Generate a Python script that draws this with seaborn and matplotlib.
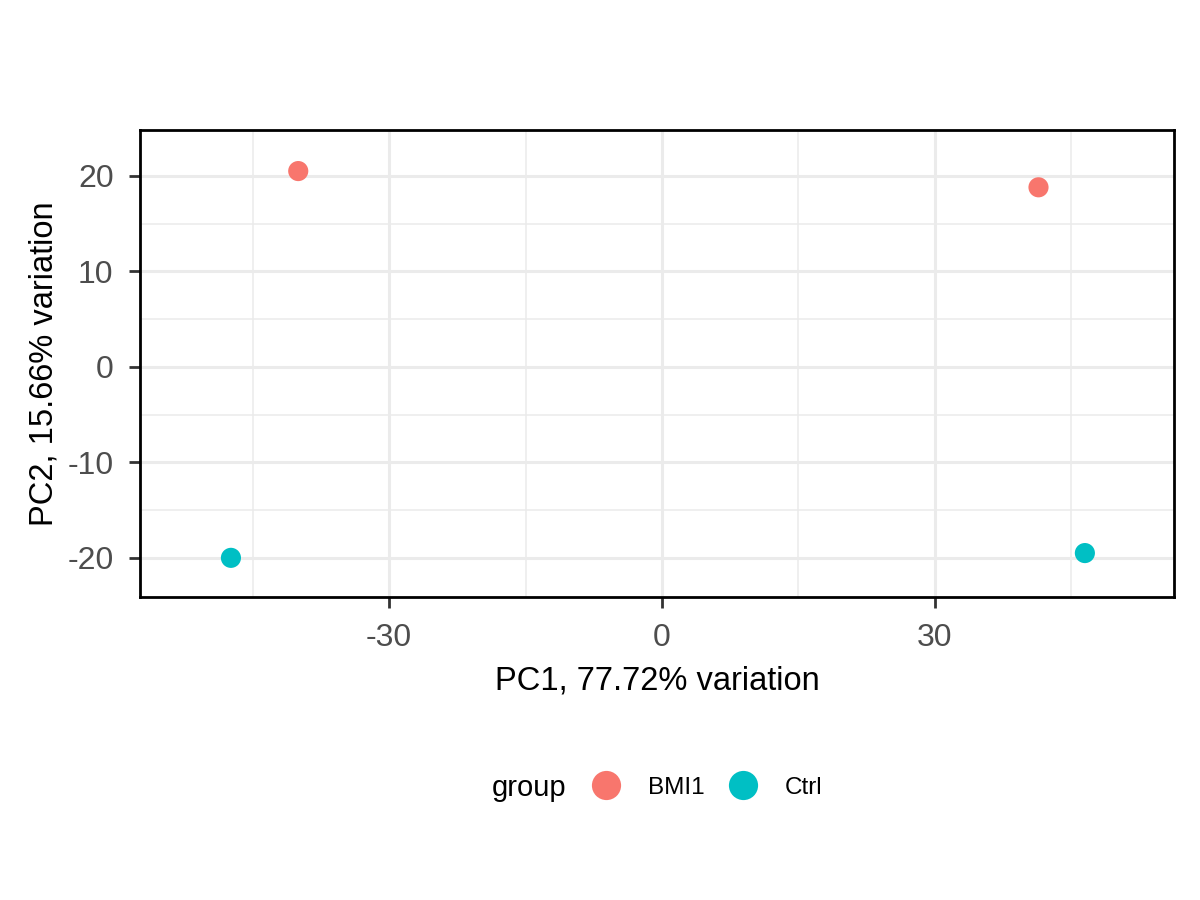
import numpy as np
import pandas as pd
import matplotlib
matplotlib.use("Agg")
import matplotlib.pyplot as plt
import seaborn as sns
from matplotlib.ticker import MultipleLocator

# PCA scores
samples = ["BMI1_1", "BMI1_2", "Ctrl_1", "Ctrl_2"]
group = ["BMI1", "BMI1", "Ctrl", "Ctrl"]
pc1 = [-40.0, 41.4, -47.4, 46.5]
pc2 = [20.5, 18.8, -20.0, -19.5]
groups = ["BMI1", "Ctrl"]
colours = ["#F8766D", "#00BFC4"]

df = pd.DataFrame({"sample": samples, "group": group, "PC1": pc1, "PC2": pc2})

sns.set_theme(style="white")
plt.rcParams["font.family"] = ["Liberation Sans", "DejaVu Sans"]
plt.rcParams["axes.unicode_minus"] = False

fig = plt.figure(figsize=(12, 9), dpi=100)
ax = fig.add_axes([140/1200, 303/900, 1034/1200, 467/900])

sns.scatterplot(data=df, x="PC1", y="PC2", hue="group", hue_order=groups,
                palette=colours, s=210, linewidth=0, ax=ax, zorder=3)

ax.set_xlim(-57.4, 56.3)
ax.set_ylim(-24.1, 24.8)
ax.xaxis.set_major_locator(MultipleLocator(30))
ax.xaxis.set_minor_locator(MultipleLocator(15))
ax.yaxis.set_major_locator(MultipleLocator(10))
ax.yaxis.set_minor_locator(MultipleLocator(5))
ax.grid(which="major", color="#EBEBEB", linewidth=2.2, zorder=0)
ax.grid(which="minor", color="#EBEBEB", linewidth=1.1, zorder=0)
ax.set_axisbelow(True)
for sp in ax.spines.values():
    sp.set_color("black")
    sp.set_linewidth(2)
ax.tick_params(which="major", length=8, width=2, color="#333333",
               labelsize=23, labelcolor="#4D4D4D", pad=11, left=True, bottom=True)
ax.tick_params(which="minor", length=0)

ax.set_xlabel("PC1, 77.72% variation", fontsize=23.5, color="black", labelpad=9)
ax.set_ylabel("PC2, 15.66% variation", fontsize=23.5, color="black", labelpad=6)

sns.move_legend(ax, "center", bbox_to_anchor=(0.585, 0.125), bbox_transform=fig.transFigure,
                ncol=2, title=None, frameon=False, fontsize=17.5, markerscale=1.45,
                handletextpad=0.72, columnspacing=0.58)
for t in ax.get_legend().get_texts():
    t.set_color("black")
fig.text(0.41, 0.124, "group", fontsize=21, va="center", ha="left", color="black")

fig.savefig("out.png", dpi=100)
